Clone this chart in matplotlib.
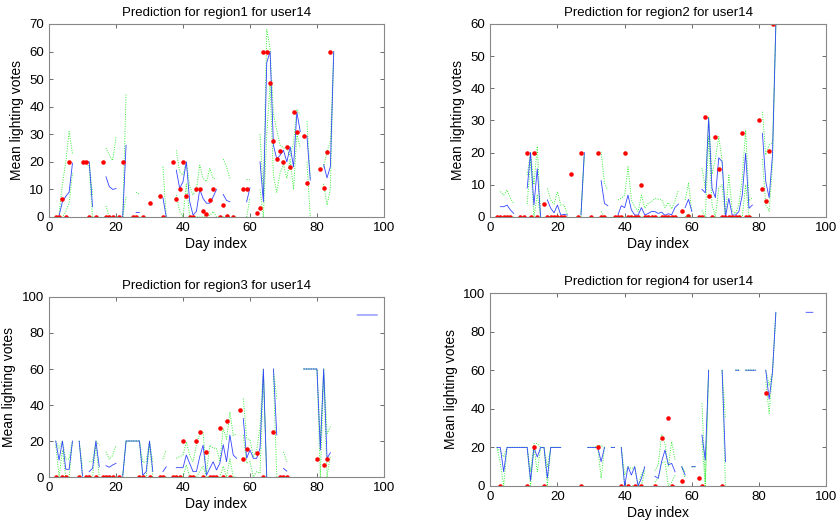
import numpy as np
import matplotlib
matplotlib.use("Agg")
import matplotlib.pyplot as plt

nan = np.nan

plt.rcParams['font.family'] = ['Liberation Sans', 'DejaVu Sans']

# ---- region1 ----
p1_pred = [nan, nan, 0.5, 5.5, 7.5, 9, 19.5, nan, nan, 20,
           20, 20, 3.7, nan, nan, nan, 14.6, 11, 10, 10.3,
           nan, 0, 26, nan, nan, 1.6, 1.6, nan, nan, nan,
           nan, nan, nan, 7, 0, nan, nan, 17, 10.4, 12.8,
           20, 5.5, 0.7, 2, 10, 6.7, 5, 5, 7.3, 10,
           nan, 8.2, 6, 5.5, nan, nan, nan, nan, 5.5, 10.6,
           nan, nan, 20, 5.5, 56, 60, 26, 21, 22.4, 24.2,
           20, 25.4, 18.2, 38, 31, nan, 29.4, 13.4, nan, nan,
           nan, 19, 14.2, 18.3, 60]
p1_upper = [nan, nan, 1, 12, 20, 31, 23, nan, nan, 20,
            20, 20, 8, nan, nan, nan, 25, 22.5, 20.5, 29,
            nan, 0, 44.7, nan, nan, 9, 8.3, nan, nan, nan,
            nan, nan, nan, 18.2, 0, nan, nan, 24.2, 16.4, 15.2,
            20, 11, 8, 10, 18.8, 14, 12.8, 17.6, 14, 14,
            nan, 21, 18.2, 14, nan, nan, nan, nan, 13.6, 13.6,
            nan, nan, 30, 8, 68, 61, 37, 31.5, 26, 25,
            25, 22, 27, 39, 37, nan, 34.7, 14, nan, nan,
            nan, 18, 24, 27, 60]
p1_lower = [nan, nan, 0, 0, 2, 5, 16, nan, nan, 20,
            20, 18, 0, nan, nan, nan, 4, 0, 0, 0,
            nan, 0, 7.3, nan, nan, 0, 0, nan, nan, nan,
            nan, nan, nan, 0, 0, nan, nan, 8, 2, 0,
            12, 0, 0, 0, 0, 0, 0.7, 0.5, 2, 0,
            nan, 0, 0, 0, nan, nan, nan, nan, 0, 7,
            nan, nan, 10, 0, 30, 48, 15, 9, 16, 19,
            14, 21, 10, 30, 25, nan, 20, 0, nan, nan,
            nan, 12, 4.3, 10.4, 60]
p1_act_days = [2, 3, 4, 5, 6, 10, 11, 12, 14, 16, 17, 18, 19, 21, 22, 25, 26, 28, 30,
               33, 34, 37, 38, 39, 40, 41, 42, 43, 44, 45, 46, 47, 48, 49, 51, 52, 53,
               55, 58, 59, 62, 63, 64, 65, 66, 67, 68, 69, 70, 71, 72, 73, 74, 76, 77,
               81, 82, 83, 84]
p1_act_vals = [0, 0, 6.7, 0, 20, 20, 20, 0, 0, 20, 0, 0, 0, 0, 20, 0, 0, 0, 5,
               7.5, 0, 20, 6.7, 10, 20, 7.5, 0, 0, 10, 10, 2, 1, 6, 10, 0, 4.3, 0.4,
               0, 10, 10, 1.6, 3.1, 60, 60, 48.7, 27.6, 21.2, 24, 20, 25.5, 18, 38.2, 31, 29.4, 12.5,
               17.3, 10.4, 23.4, 60]

# ---- region2 ----
p2_pred = [nan, nan, 3.2, 3.2, 3.7, 2.2, 1.1, nan, nan, nan,
           9, 20, 3.7, 15, 0, nan, 5.3, 2.7, 1.3, 3.7,
           0.6, 0.8, 0.6, nan, nan, nan, 0.6, 20, nan, nan,
           nan, nan, 11.3, 4.2, 3.5, nan, nan, 0.6, 3.5, 2.9,
           6.8, 2.2, 0.6, 0.6, 2.9, 0.6, 1.1, 1.7, 1.7, 1.1,
           1.5, 0.5, 1, 0.7, 3, 4, nan, 2.9, 5.5, 1.7,
           nan, nan, 8.6, 7.5, 30.7, 8.9, 6, 18.4, 17.2, 0,
           5.8, 0.6, 0.6, 1.7, 6.8, 19.8, 2.7, 3.7, nan, nan,
           26, 11, 6, 19.3, 60]
p2_upper = [nan, nan, 7.9, 6.8, 8.4, 5.8, 4.2, nan, nan, nan,
            13, 20, 10, 22, 0, nan, 8.9, 5.3, 4, 7.9,
            3.7, 3.7, 0.6, nan, nan, nan, 1, 20, nan, nan,
            nan, nan, 20.3, 10.5, 8.4, nan, nan, 5.3, 5.8, 6.8,
            15.6, 5.3, 3.2, 1.7, 6.8, 2.7, 4.2, 4.8, 5.8, 5.5,
            5.5, 3, 4.5, 2.5, 5, 8.4, nan, 5.3, 10.5, 1.7,
            nan, nan, 15.3, 9, 31.2, 13.3, 18, 25, 17.5, 0.6,
            13, 2, 1, 4, 12, 27, 5, 6, nan, nan,
            32.7, 19.3, 22.4, 23, 60]
p2_lower = [nan, nan, 0, 0, 0, 0, 0, nan, nan, nan,
            4, 18, 0, 7, 0, nan, 0, 0, 0, 0,
            0, 0, 0, nan, nan, nan, 0, 19, nan, nan,
            nan, nan, 1.7, 0, 0, nan, nan, 0, 0, 0,
            0, 0, 0, 0, 0, 0, 0, 0, 0, 0,
            0, 0, 0, 0, 0, 0, nan, 0, 1, 0,
            nan, nan, 2, 0, 25, 4, 0, 9, 10, 0,
            0, 0, 0, 0, 0, 10, 0, 0, nan, nan,
            18, 3.7, 1.7, 16, 60]
p2_act_days = [2, 3, 4, 5, 6, 9, 10, 11, 12, 13, 14, 16, 17, 18, 19, 20, 21, 22, 24,
               26, 27, 30, 32, 33, 34, 37, 38, 39, 40, 41, 42, 43, 44, 45, 46, 47, 48,
               49, 51, 52, 53, 54, 55, 57, 59, 62, 63, 64, 65, 66, 67, 68, 69, 70, 71,
               72, 73, 74, 75, 76, 77, 80, 81, 82, 83, 84]
p2_act_vals = [0, 0, 0, 0, 0, 0, 0, 20, 0, 20, 0, 3.9, 0, 0, 0, 0, 0, 0, 13.4,
               0, 20, 0, 20, 0, 0, 0, 0, 0, 20, 0, 0, 0, 0, 10, 0, 0, 0,
               0, 0, 0, 0, 0, 0, 2, 0.3, 0, 0, 31, 6.5, 0, 25, 15, 0, 0, 0,
               0, 0, 0, 26, 0, 0, 30, 8.6, 5, 20.5, 60]

# ---- region3 ----
p3_pred = [nan, 20, 9.4, 20, 4.3, 4.3, 20, nan, 20, 0.5,
           nan, 3, 4.8, 20, 5.7, nan, 6.3, 5.4, 6.7, 7.6,
           nan, 0.5, 20, 20, 20, 20, 20, 1, 3, 20,
           3, nan, nan, 3, 5.7, nan, nan, 5.2, 5.2, 5.2,
           12.2, 7.5, 3, 3, 11.3, 17.7, 1, 4.8, 8.5, 3.9,
           7.6, 18, 8.5, 23.3, 12.2, 10.4, nan, 32.5, 10.4, 15,
           10.4, 10.4, 16, 60, 0, nan, 60, 23.3, nan, 4.8,
           3.3, nan, nan, nan, nan, 60, 60, 60, 60, 60,
           15, 60, 10.4, 13.5, nan, nan, nan, nan, nan, nan,
           nan, 90, 90, 90, 90, 90, 90, 90]
p3_upper = [nan, 20, 16, 20, 10, 10, 20, nan, 20, 5,
            nan, 8.5, 8.5, 20, 17.7, nan, 14, 9.8, 12, 17.7,
            nan, 1, 20, 20, 20, 20, 20, 8, 8.5, 20,
            8, nan, nan, 10, 15, nan, nan, 10.4, 11.3, 12.2,
            19.6, 12, 8.5, 17.7, 24.2, 25, 2, 17.7, 16, 16,
            8.5, 27, 21, 36.2, 23, 24, nan, 43.6, 21.4, 20.5,
            11.3, 15, 28, 60, 0, nan, 60, 43.6, nan, 14,
            8.5, nan, nan, nan, nan, 60, 60, 60, 60, 60,
            21, 60, 24, 28, nan, nan, nan, nan, nan, nan,
            nan, nan, nan, nan, nan, nan, nan, nan]
p3_lower = [nan, 18, 0, 15, 0, 0, 20, nan, 20, 0,
            nan, 0, 0, 18, 0, nan, 0, 0, 0, 0,
            nan, 0, 20, 20, 20, 20, 20, 0, 0, 18,
            0, nan, nan, 0, 0, nan, nan, 0, 0, 0,
            6.7, 0, 0, 0, 3, 6, 0, 0, 0, 0,
            0, 6, 0, 10, 0, 0, nan, 23.3, 7.6, 8.5,
            0, 3, 2, 56, 0, nan, 56, 0, nan, 0,
            0, nan, nan, nan, nan, 60, 60, 60, 60, 60,
            0, 56, 0, 12, nan, nan, nan, nan, nan, nan,
            nan, nan, nan, nan, nan, nan, nan, nan]
p3_act_days = [2, 4, 5, 9, 11, 12, 14, 16, 17, 18, 19, 21, 27, 28, 30, 33, 34, 37, 38, 39,
               40, 42, 43, 44, 45, 46, 47, 48, 49, 50, 51, 52, 53, 54, 57, 58, 59,
               62, 64, 67, 69, 70, 71, 80, 82, 83]
p3_act_vals = [0, 0, 0, 0, 0, 0, 0, 0, 0, 0, 0, 0, 0, 0, 0, 0, 0, 0, 0, 0,
               20, 0, 0, 20, 25, 0, 13.7, 0, 0, 0, 27.2, 0, 31, 0, 37.5, 10, 15.7,
               13.5, 0, 25, 0, 0, 0, 10, 6.7, 10]

# ---- region4 ----
p4_pred = [nan, 20, 20, 7.4, 20, 20, 20, 20, 20, 20,
           20, 2.8, 20, 15, 20, 20, 4, 20, 20, 20,
           20, nan, nan, nan, nan, nan, nan, nan, 20, 20,
           20, 20, 12.6, 20, nan, 20, 20, nan, 20, 0,
           10, 5.7, 10, 0, 4, 10, nan, nan, 5, 4,
           12.6, 18.6, 11, 11.7, 7.4, nan, 10, 5.7, nan, 10,
           10, nan, 26.4, 13.4, 60, nan, nan, nan, 60, 12.6,
           nan, nan, 60, 60, nan, 60, 60, 60, 60, nan,
           nan, 60, 45, 59, 90, nan, nan, nan, nan, nan,
           nan, nan, nan, 90, 90, 90]
p4_upper = [nan, 20, 18, 15, 20, 20, 20, 20, 20, 20,
            20, 7.4, 22, 22, 20, 20, 10, 20, 20, 20,
            20, nan, nan, nan, nan, nan, nan, nan, 20, 20,
            20, 21, 21, 20, nan, 20, 20, nan, 20, 5.7,
            10, 9, 10, 0, 6, 10, nan, nan, 8, 11,
            26.4, 22, 10, 23, 13.4, nan, 10, 7.4, nan, 10,
            10, nan, 42.8, 2, 60, nan, nan, nan, 60, 35,
            nan, nan, 60, 60, nan, 60, 60, 60, 60, nan,
            nan, 60, 52, 59, 90, nan, nan, nan, nan, nan,
            nan, nan, nan, nan, nan, nan]
p4_lower = [nan, 20, 12, 0, 20, 20, 20, 20, 20, 20,
            20, 0, 20, 7.4, 20, 20, 0, 20, 20, 20,
            20, nan, nan, nan, nan, nan, nan, nan, 20, 20,
            20, 20, 4, 20, nan, 20, 20, nan, 20, 0,
            0, 0, 0, 0, 0, 8, nan, nan, 2, 4,
            12, 12.6, 0, 2, 5.7, nan, 10, 4, nan, 10,
            10, nan, 23, 0, 60, nan, nan, nan, 60, 0,
            nan, nan, 60, 60, nan, 60, 60, 60, 60, nan,
            nan, 54, 37.6, 59, 90, nan, nan, nan, nan, nan,
            nan, nan, nan, nan, nan, nan]
p4_act_days = [3, 11, 13, 16, 27, 32, 39, 41, 43, 45, 49, 51, 53, 54, 57, 62, 63, 69, 82]
p4_act_vals = [0, 0, 20, 0, 0, 20, 0, 0, 0, 0, 0, 25, 35, 0, 2.6, 4.3, 0, 0, 48]

panels = [
    ("region1", p1_pred, p1_upper, p1_lower, p1_act_days, p1_act_vals, 70, 10,
     [0.0585, 0.5867, 0.3997, 0.3676]),
    ("region2", p2_pred, p2_upper, p2_lower, p2_act_days, p2_act_vals, 60, 10,
     [0.585, 0.5867, 0.401, 0.3676]),
    ("region3", p3_pred, p3_upper, p3_lower, p3_act_days, p3_act_vals, 100, 20,
     [0.0585, 0.0914, 0.3997, 0.3429]),
    ("region4", p4_pred, p4_upper, p4_lower, p4_act_days, p4_act_vals, 100, 20,
     [0.585, 0.0743, 0.401, 0.3676]),
]

fig = plt.figure(figsize=(8.38, 5.25), dpi=100)

for name, pred, upper, lower, adays, avals, ymax, ystep, pos in panels:
    ax = fig.add_axes(pos)
    days = np.arange(1, len(pred) + 1)
    ax.plot(days, upper, color='#33ee33', lw=0.7, ls=(0, (1, 1.5)))
    ax.plot(days, lower, color='#33ee33', lw=0.7, ls=(0, (1, 1.5)))
    ax.plot(days, pred, '-', color='#3344ff', lw=0.6)
    ax.plot(adays, avals, '.', color='red', ms=4.5)
    ax.set_xlim(0, 100)
    ax.set_ylim(0, ymax)
    ax.set_xticks(np.arange(0, 101, 20))
    ax.set_yticks(np.arange(0, ymax + 1, ystep))
    ax.tick_params(direction='in', top=True, right=True, length=3, width=0.6,
                   labelsize=9.5, color='#555555')
    for s in ax.spines.values():
        s.set_color('#888888')
        s.set_linewidth(0.8)
    ax.set_title("Prediction for " + name + " for user14", fontsize=9.5)
    ax.set_xlabel("Day index", fontsize=10, labelpad=2)
    ax.set_ylabel("Mean lighting votes", fontsize=10, labelpad=4)

fig.savefig("out.png", dpi=100)
